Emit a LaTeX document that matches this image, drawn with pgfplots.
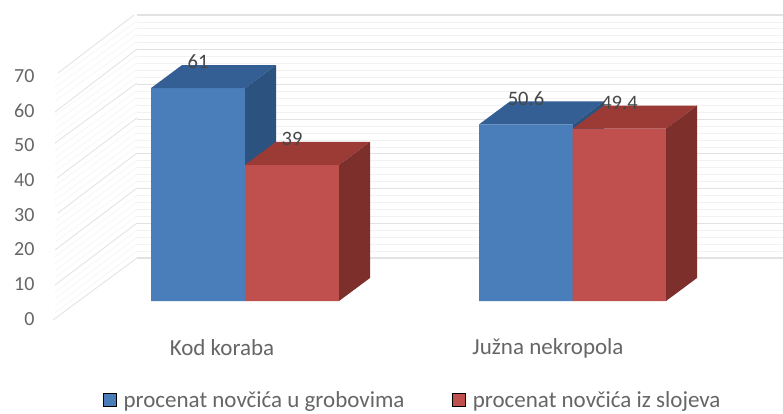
\documentclass[border=0pt]{standalone}
\usepackage{fontspec}
\setmainfont{Carlito}
\usepackage{pgfplots}
\pgfplotsset{compat=1.18}
\definecolor{bluef}{HTML}{4A7EBB}
\definecolor{bluet}{HTML}{335F94}
\definecolor{blues}{HTML}{2C5280}
\definecolor{redf}{HTML}{C0504D}
\definecolor{redt}{HTML}{9C3A35}
\definecolor{reds}{HTML}{7D2F2C}
\definecolor{gridc}{HTML}{E2E2E2}
\definecolor{txt}{HTML}{666666}
\begin{document}
\begin{tikzpicture}[x=1pt,y=1pt]
\useasboundingbox (0,0) rectangle (783,413);
\fill[white] (0,0) rectangle (783,413);
% back wall, tick labels, category labels
\begin{axis}[
  at={(137pt,155pt)}, anchor=south west, scale only axis,
  width=646pt, height=243pt,
  xmin=137, xmax=783, ymin=0, ymax=70,
  ytick={0,10,...,70}, minor y tick num=4,
  xtick={222,548}, xticklabels={Kod koraba,Južna nekropola},
  axis line style={draw=none}, major tick length=0pt, minor tick length=0pt,
  ymajorgrids, yminorgrids,
  major grid style={gridc,line width=1.2pt},
  minor grid style={black!5,line width=0.8pt},
  /pgf/number format/assume math mode=true,
  yticklabel style={font=\fontsize{20}{20}\selectfont,text=txt,anchor=east,xshift=-99pt,yshift=-61pt},
  xticklabel style={font=\fontsize{23}{23}\selectfont,text=txt,anchor=center,yshift=-90pt},
  clip=false,
]
\end{axis}
% bars
\begin{axis}[
  at={(0pt,0pt)}, anchor=south west, scale only axis,
  width=783pt, height=413pt,
  xmin=0, xmax=783, ymin=-32.09, ymax=86.25,
  hide axis, clip=false,
  unbounded coords=jump,
  /pgf/number format/assume math mode=true,
  legend columns=2,
  legend style={at={(axis cs:100,-28.5)},anchor=west,draw=none,fill=none,
     font=\fontsize{23}{23}\selectfont,text=txt,
     /tikz/every odd column/.append style={column sep=5pt},
     /tikz/every even column/.append style={column sep=46pt}},
  legend image code/.code={\fill[#1] (0pt,-6pt) rectangle (13pt,7pt);},
  nodes near coords style={font=\fontsize{20.5}{20.5}\selectfont,text=black!72,anchor=center,yshift=26pt},
]
% side wall
\addplot[black!4,line width=0.6pt,forget plot] coordinates {
 (55,-3.42)(137,14.32)(nan,nan)(55,-1.40)(137,16.32)(nan,nan)(55,0.62)(137,18.32)(nan,nan)(55,2.64)(137,20.32)(nan,nan)
 (55,6.68)(137,24.32)(nan,nan)(55,8.70)(137,26.32)(nan,nan)(55,10.72)(137,28.32)(nan,nan)(55,12.74)(137,30.32)(nan,nan)
 (55,16.78)(137,34.32)(nan,nan)(55,18.80)(137,36.32)(nan,nan)(55,20.82)(137,38.32)(nan,nan)(55,22.84)(137,40.32)(nan,nan)
 (55,26.88)(137,44.32)(nan,nan)(55,28.90)(137,46.32)(nan,nan)(55,30.92)(137,48.32)(nan,nan)(55,32.94)(137,50.32)(nan,nan)
 (55,36.98)(137,54.32)(nan,nan)(55,39.00)(137,56.32)(nan,nan)(55,41.02)(137,58.32)(nan,nan)(55,43.04)(137,60.32)(nan,nan)
 (55,47.08)(137,64.32)(nan,nan)(55,49.10)(137,66.32)(nan,nan)(55,51.12)(137,68.32)(nan,nan)(55,53.14)(137,70.32)(nan,nan)
 (55,57.18)(137,74.32)(nan,nan)(55,59.20)(137,76.32)(nan,nan)(55,61.22)(137,78.32)(nan,nan)(55,63.24)(137,80.32)};
\addplot[gridc,line width=0.8pt,forget plot] coordinates {
 (53,-5.44)(137,12.32)(nan,nan)
 (55,4.58)(137,22.35)(nan,nan)
 (55,14.61)(137,32.38)(nan,nan)
 (58,25.21)(137,42.41)(nan,nan)
 (57,35.24)(137,52.44)(nan,nan)
 (55,45.27)(137,62.46)(nan,nan)
 (55,54.15)(137,72.21)(nan,nan)
 (58,65.33)(134,81.95)};
% blue
\addplot[ybar,bar width=94pt,bar shift=0pt,fill=bluef,draw=none,forget plot,nodes near coords]
  coordinates {(198,61)(526,50.6)};
\addplot[fill=bluet,draw=none,forget plot] coordinates {(151,61)(245,61)(276,67.6)(182,67.6)} -- cycle;
\addplot[fill=blues,draw=none,forget plot] coordinates {(245,0)(276,6.6)(276,67.6)(245,61)} -- cycle;
\addplot[fill=bluet,draw=none,forget plot] coordinates {(479,50.6)(573,50.6)(604,57.2)(510,57.2)} -- cycle;
\addplot[fill=blues,draw=none,forget plot] coordinates {(573,0)(604,6.6)(604,57.2)(573,50.6)} -- cycle;
% red
\addplot[ybar,bar width=94pt,bar shift=0pt,fill=redf,draw=none,forget plot,nodes near coords]
  coordinates {(292,39)(619.5,49.4)};
\addplot[fill=redt,draw=none,forget plot] coordinates {(245,39)(339,39)(370,45.6)(276,45.6)} -- cycle;
\addplot[fill=reds,draw=none,forget plot] coordinates {(339,0)(370,6.6)(370,45.6)(339,39)} -- cycle;
\addplot[fill=redt,draw=none,forget plot] coordinates {(573,49.4)(666,49.4)(697,56)(604,56)} -- cycle;
\addplot[fill=reds,draw=none,forget plot] coordinates {(666,0)(697,6.6)(697,56)(666,49.4)} -- cycle;
\addlegendimage{fill=bluef}
\addlegendentry{procenat novčića u grobovima}
\addlegendimage{fill=redf}
\addlegendentry{procenat novčića iz slojeva}
\end{axis}
\end{tikzpicture}
\end{document}
